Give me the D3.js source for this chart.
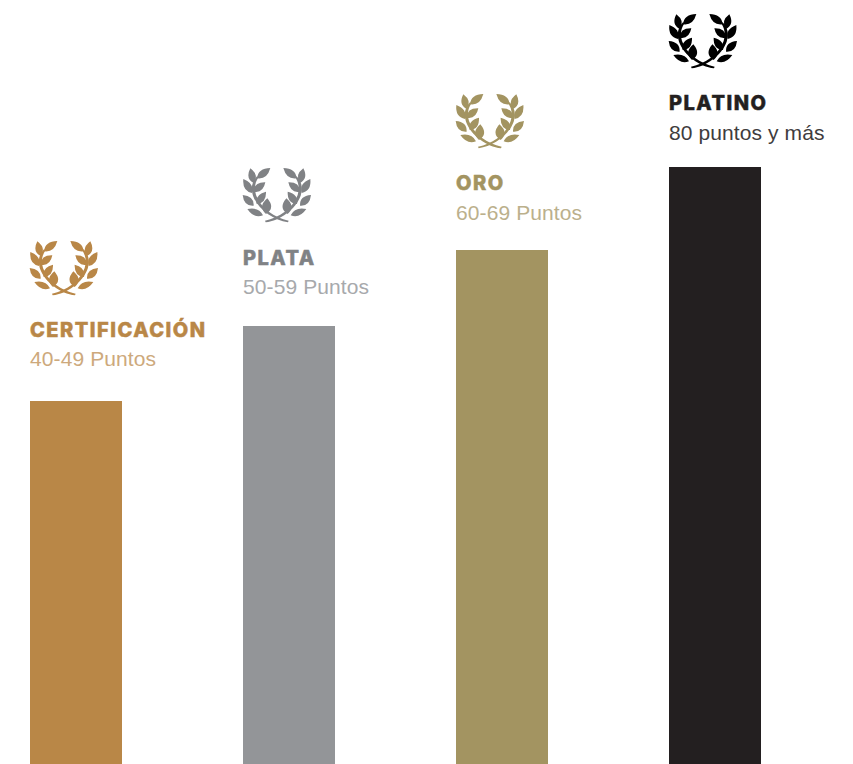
<!DOCTYPE html>
<html><head><meta charset="utf-8">
<script src="https://cdn.jsdelivr.net/npm/d3@7"></script>
<style>html,body{margin:0;background:#fff}svg{display:block}</style></head>
<body><svg id="c" width="853" height="764"></svg>
<script>
const categories = ["CERTIFICACIÓN","PLATA","ORO","PLATINO"];
const ranges = ["40-49 Puntos","50-59 Puntos","60-69 Puntos","80 puntos y más"];
const values = [36.3,43.8,51.4,59.7];
const barColors = ["#b98747","#939598","#a39461","#231f20"];
const iconColors = ["#b98747","#808285","#a39461","#000000"];
const titleColors = ["#b98747","#808285","#a39461","#231f20"];
const subColors = ["#cda97c","#a7a9ac","#bbb08c","#403c3d"];
const iconTop = [241,168,94,14];
const titleBase = [337,265,190,110];
const subBase = [366,294,220,140];

const W=853,H=764;
const x=d3.scaleBand().domain(categories).range([30,882]).paddingInner(0).paddingOuter(0).align(0);
const bw=92;
const y=d3.scaleLinear().domain([0,76.4]).range([H,0]);
const svg=d3.select("#c");

const leaves=[[70,66,110,35,17],[60,80,50,36,17],[60,106,95,78,17],[55,110,29,68,17],[69,143,97,106,17],[60,148,27,116,17],[97,173,101,126,21],[88,177,41,158,15]];
function halfPath(){
  const p=d3.path();
  leaves.forEach(([bx,by,tx,ty,w])=>{
    const dx=tx-bx,dy=ty-by,L=Math.hypot(dx,dy),nx=-dy/L*w*1.3,ny=dx/L*w*1.3;
    const mx=bx+dx*.42,my=by+dy*.42;
    p.moveTo(bx,by);
    p.quadraticCurveTo(mx+nx,my+ny,tx,ty);
    p.quadraticCurveTo(mx-nx,my-ny,bx,by);
    p.closePath();
  });
  return p.toString();
}
const stem="M163,198 C120,192 73,160 58,118 C50,92 56,76 70,60 L75,62 C64,78 61,94 67,116 C82,157 122,184 165,193 Z";
const sx=67/201;
const g=svg.selectAll("g.i").data(categories).join("g").attr("class","i");
g.append("rect").attr("x",d=>x(d)).attr("y",(d,i)=>y(values[i])).attr("width",bw).attr("height",(d,i)=>H-y(values[i])).attr("fill",(d,i)=>barColors[i]);
const ic=g.append("g").attr("transform",(d,i)=>`translate(${x(d)},${iconTop[i]}) scale(${sx}) translate(-28,-35)`).attr("fill",(d,i)=>iconColors[i]);
[false,true].forEach(m=>{
  const h=ic.append("g").attr("transform",m?"translate(259,0) scale(-1,1)":null);
  h.append("path").attr("d",halfPath());
  h.append("path").attr("d",stem);
});
g.append("text").attr("x",d=>x(d)).attr("y",(d,i)=>titleBase[i]).text(d=>d)
 .attr("font-family","Inter").attr("font-weight",800).attr("font-size",20).attr("letter-spacing",1.5)
 .attr("fill",(d,i)=>titleColors[i]).attr("stroke",(d,i)=>titleColors[i]).attr("stroke-width",0.5);
g.append("text").attr("x",d=>x(d)).attr("y",(d,i)=>subBase[i]).text((d,i)=>ranges[i])
 .attr("font-family","Liberation Sans").attr("font-size",21).attr("letter-spacing",0.1).attr("fill",(d,i)=>subColors[i]);
</script></body></html>
